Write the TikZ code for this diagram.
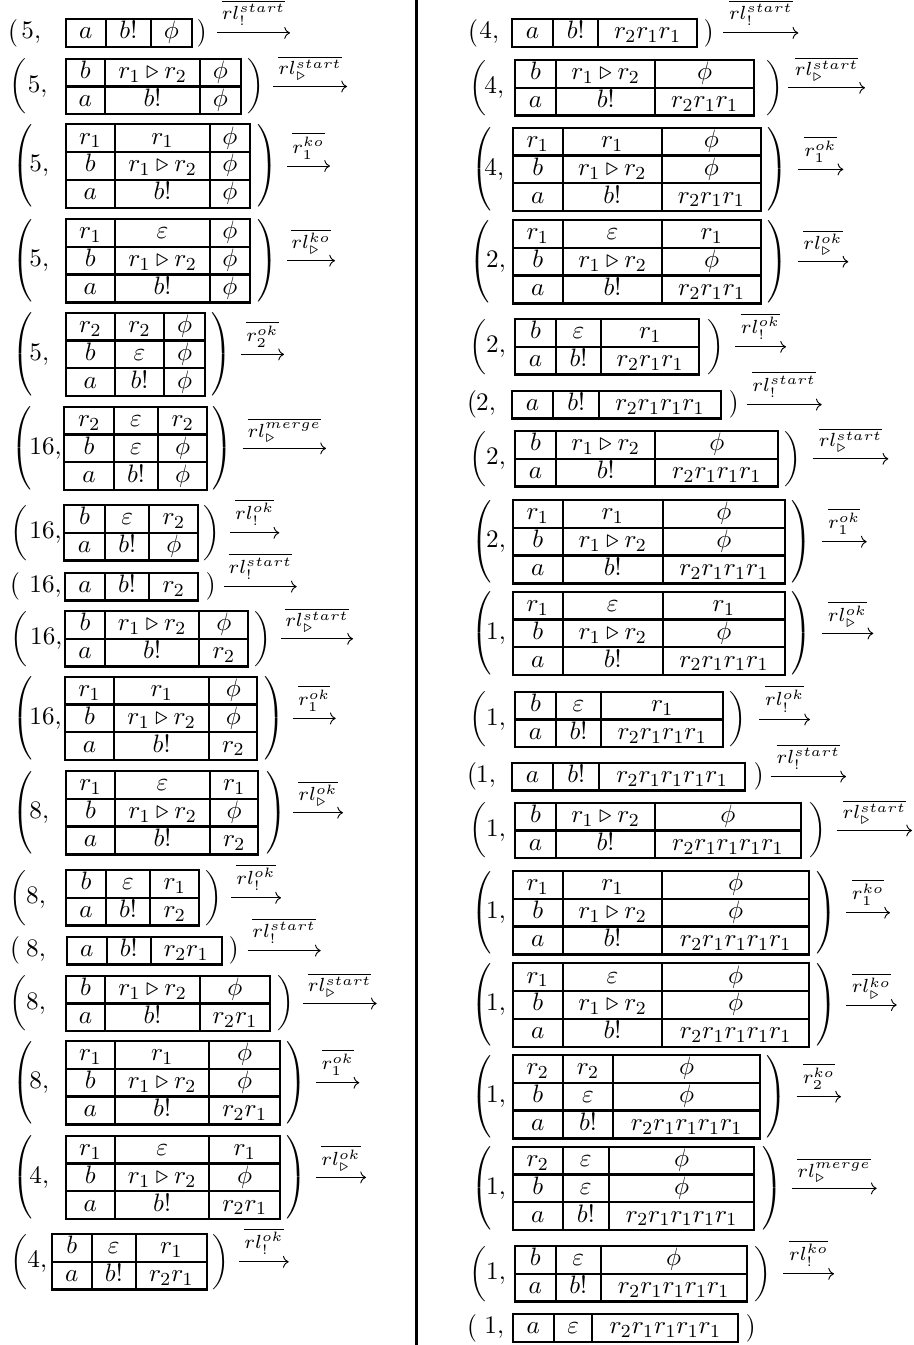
\documentclass[tikz,border=0pt]{standalone}
\usepackage{amsmath,amssymb,graphicx}
\usetikzlibrary{arrows.meta}
\tikzset{
  tabline/.style={line width=1pt},
  cell/.style={inner sep=0pt, anchor=base, font=\fontsize{10.95}{13.6}\selectfont},
  numtext/.style={inner sep=0pt, anchor=base west, font=\fontsize{10.95}{13.6}\selectfont},
  paren/.style={inner sep=0pt, anchor=west},
  arrline/.style={line width=0.4pt, -{Computer Modern Rightarrow}},
  lbl/.style={inner sep=0pt, anchor=south},
  divider/.style={line width=1.3pt},
}
\newcommand\rh{27.8}
\def\parsexs#1,#2,#3,#4,#5,#6,#7,#8,#9\relax{\def\xL{#1}\def\xa{#2}\def\xb{#3}\def\xR{#4}\def\xpl{#5}\def\xnum{#6}\def\xpr{#7}\def\xas{#8}\def\xae{#9}}
\newcommand\cfg[7]{%
  \parsexs#4\relax
  \pgfmathsetmacro\yb{#2+#3*\rh}%
  \pgfmathsetmacro\yc{#2+#3*\rh/2}%
  \pgfmathsetmacro\ybase{\yc+5.75}%
  \pgfmathsetmacro\hpt{#3*\rh*0.4348}%
  \draw[tabline] (\xL,#2) rectangle (\xR,\yb);
  \draw[tabline] (\xa,#2) -- (\xa,\yb) (\xb,#2) -- (\xb,\yb);
  \foreach \cA/\cB/\cC [count=\i] in {#6} {
    \pgfmathsetmacro\yt{#2+(\i-1)*\rh}
    \pgfmathsetmacro\yy{\yt+19.8}
    \ifnum\i>1 \draw[tabline] (\xL,\yt) -- (\xR,\yt); \fi
    \node[cell] (#1-\i-1) at ({(\xL+\xa)/2},\yy) {$\cA$};
    \node[cell] (#1-\i-2) at ({(\xa+\xb)/2},\yy) {$\cB$};
    \node[cell] (#1-\i-3) at ({(\xb+\xR)/2},\yy) {$\cC$};
  }
  \node[paren] (#1-lp) at ({\xpl-2.5},\yc) {\nulldelimiterspace=0pt$\left(\vcenter{\hbox{\vrule height \hpt pt depth 0pt width 0pt}}\right.$};
  \node[numtext] (#1-num) at ({\xnum-1},\ybase) {$#5,$};
  \node[paren] (#1-rp) at ({\xpr-1},\yc) {\nulldelimiterspace=0pt$\left.\vcenter{\hbox{\vrule height \hpt pt depth 0pt width 0pt}}\right)$};
  \if\relax\detokenize{#7}\relax\else
    \coordinate (#1-as) at (\xas,\yc);
    \coordinate (#1-ae) at (\xae,\yc);
    \draw[arrline] (#1-as) -- (#1-ae);
    \pgfmathsetmacro\xm{(\xas+\xae)/2}%
    \pgfmathsetmacro\yl{\yc-6.5}%
    \node[lbl] (#1-lab) at (\xm,\yl) {\scalebox{1.18}{$\scriptstyle\overline{#7}$}};
  \fi
}
\begin{document}
\begin{tikzpicture}[x=0.4348pt,y=-0.4348pt]
\useasboundingbox (0,0) rectangle (913,1345);
\draw[divider] (416,0) -- (416,1345);
% left column
\cfg{L1}{19}{1}{65.7,106,150.7,192.3,10,22,198,217,290}{5}{a/b!/\phi}{rl^{start}_{!}}
\cfg{L2}{58.7}{2}{65.7,105,200,240.7,11.7,28.3,248,273,347}{5}{b/{r_1\triangleright r_2}/\phi, a/b!/\phi}{rl^{start}_{\triangleright}}
\cfg{L3}{124.3}{3}{65.7,115,210,250,15,30,258,287,330}{5}{r_1/r_1/\phi, b/{r_1\triangleright r_2}/\phi, a/b!/\phi}{r_1^{ko}}
\cfg{L4}{219}{3}{65.7,115,210,250,15,30,258,287,335}{5}{r_1/\varepsilon/\phi, b/{r_1\triangleright r_2}/\phi, a/b!/\phi}{rl^{ko}_{\triangleright}}
\cfg{L5}{312.7}{3}{65.7,115,164,205,15,30,212,241,284}{5}{r_2/r_2/\phi, b/\varepsilon/\phi, a/b!/\phi}{r_2^{ok}}
\cfg{L6}{406.7}{3}{64.3,114,158,207.3,14,30,213,242.7,326}{16}{r_2/\varepsilon/r_2, b/\varepsilon/\phi, a/b!/\phi}{rl^{merge}_{\triangleright}}
\cfg{L7}{505}{2}{64.3,105,149.3,198.3,13,30,204,230,279.3}{16}{b/\varepsilon/r_2, a/b!/\phi}{rl^{ok}_{!}}
\cfg{L8}{572.7}{1}{65,105,149,198.3,11.7,30,207,224,296.7}{16}{a/b!/r_2}{rl^{start}_{!}}
\cfg{L9}{611}{2}{65,105,199.3,248.3,12.7,30.7,255,281,353}{16}{b/{r_1\triangleright r_2}/\phi, a/b!/r_2}{rl^{start}_{\triangleright}}
\cfg{L10}{676.7}{3}{65,114,209.3,257.3,15,30,265,292.7,335.7}{16}{r_1/r_1/\phi, b/{r_1\triangleright r_2}/\phi, a/b!/r_2}{r_1^{ok}}
\cfg{L11}{771}{3}{66,115,210,258.3,15,30,267,293,343}{8}{r_1/\varepsilon/r_1, b/{r_1\triangleright r_2}/\phi, a/b!/r_2}{rl^{ok}_{\triangleright}}
\cfg{L12}{870}{2}{66,106,150,199.3,11.7,26.7,206,231,281}{8}{b/\varepsilon/r_1, a/b!/r_2}{rl^{ok}_{!}}
\cfg{L13}{936.7}{1}{66.7,106.7,150.7,221.7,11.7,26.7,230,247.7,320.7}{8}{a/b!/r_2r_1}{rl^{start}_{!}}
\cfg{L14}{975.7}{2}{66,105,200,270,11.7,26.7,278,302.7,376.7}{8}{b/{r_1\triangleright r_2}/\phi, a/b!/r_2r_1}{rl^{start}_{\triangleright}}
\cfg{L15}{1041}{3}{65.7,115,209.3,280,15,30,287,316,359.3}{8}{r_1/r_1/\phi, b/{r_1\triangleright r_2}/\phi, a/b!/r_2r_1}{r_1^{ok}}
\cfg{L16}{1135.7}{3}{65.7,115,209.3,280,15,30,287,316,366}{4}{r_1/\varepsilon/r_1, b/{r_1\triangleright r_2}/\phi, a/b!/r_2r_1}{rl^{ok}_{\triangleright}}
\cfg{L17}{1234}{2}{51.7,91.7,136,206.7,13,28,213,239.3,288.7}{4}{b/\varepsilon/r_1, a/b!/r_2r_1}{rl^{ok}_{!}}
% right column
\cfg{R1}{19}{1}{511.7,553.3,598.3,696.7,469.3,480,705,723.3,798.3}{4}{a/b!/r_2r_1r_1}{rl^{start}_{!}}
\cfg{R2}{60}{2}{515,556,655.3,754,471.7,485,766.7,788.3,865}{4}{b/{r_1\triangleright r_2}/\phi, a/b!/r_2r_1r_1}{rl^{start}_{\triangleright}}
\cfg{R3}{127.7}{3}{512.7,562.7,661.7,761,473.3,485,768.3,797.7,843.3}{4}{r_1/r_1/\phi, b/{r_1\triangleright r_2}/\phi, a/b!/r_2r_1r_1}{r_1^{ok}}
\cfg{R4}{220}{3}{512.7,562.7,662.3,761,471.7,486.7,768.3,797.7,848.3}{2}{r_1/\varepsilon/r_1, b/{r_1\triangleright r_2}/\phi, a/b!/r_2r_1r_1}{rl^{ok}_{\triangleright}}
\cfg{R5}{319}{2}{515,556,601,699.3,471.7,486.7,708.3,735,786}{2}{b/\varepsilon/r_1, a/b!/r_2r_1r_1}{rl^{ok}_{!}}
\cfg{R6}{390.7}{1}{511.7,553.3,599,721,468.3,476.7,730,746.7,821.7}{2}{a/b!/r_2r_1r_1r_1}{rl^{start}_{!}}
\cfg{R7}{431}{2}{515,556,655.3,778.3,471.7,486.7,785,812.7,888.3}{2}{b/{r_1\triangleright r_2}/\phi, a/b!/r_2r_1r_1r_1}{rl^{start}_{\triangleright}}
\cfg{R8}{500}{3}{512.7,562.7,662.7,785,473.3,486.7,791.7,821.7,866.7}{2}{r_1/r_1/\phi, b/{r_1\triangleright r_2}/\phi, a/b!/r_2r_1r_1r_1}{r_1^{ok}}
\cfg{R9}{591.7}{3}{512.7,562.7,662.7,785,473.3,486.7,791.7,821.7,873.3}{1}{r_1/\varepsilon/r_1, b/{r_1\triangleright r_2}/\phi, a/b!/r_2r_1r_1r_1}{rl^{ok}_{\triangleright}}
\cfg{R10}{691.7}{2}{515,556,601,723.3,471.7,486.7,730,759.3,810}{1}{b/\varepsilon/r_1, a/b!/r_2r_1r_1r_1}{rl^{ok}_{!}}
\cfg{R11}{762.7}{1}{511.7,553.3,599,745,468.3,476.7,755,770.7,846}{1}{a/b!/r_2r_1r_1r_1r_1}{rl^{start}_{!}}
\cfg{R12}{802.7}{2}{515,556,655,800.7,471.7,486.7,810,836.7,912}{1}{b/{r_1\triangleright r_2}/\phi, a/b!/r_2r_1r_1r_1r_1}{rl^{start}_{\triangleright}}
\cfg{R13}{871}{3}{512.7,562.7,662.3,809,473.3,486.7,816.7,846,890}{1}{r_1/r_1/\phi, b/{r_1\triangleright r_2}/\phi, a/b!/r_2r_1r_1r_1r_1}{r_1^{ko}}
\cfg{R14}{963.3}{3}{512.7,562.7,662.3,809,473.3,486.7,816.7,846,896.7}{1}{r_1/\varepsilon/\phi, b/{r_1\triangleright r_2}/\phi, a/b!/r_2r_1r_1r_1r_1}{rl^{ko}_{\triangleright}}
\cfg{R15}{1055}{3}{512.7,562.7,613.3,760,473.3,486.7,766.7,796.7,841}{1}{r_2/r_2/\phi, b/\varepsilon/\phi, a/b!/r_2r_1r_1r_1r_1}{r_2^{ko}}
\cfg{R16}{1146.7}{3}{512.7,562.7,609,754.3,473.3,486.7,763.3,791.7,876.7}{1}{r_2/\varepsilon/\phi, b/\varepsilon/\phi, a/b!/r_2r_1r_1r_1r_1}{rl^{merge}_{\triangleright}}
\cfg{R17}{1246}{2}{515,555.7,600.7,746.7,471.7,486.7,755,783.3,834}{1}{b/\varepsilon/\phi, a/b!/r_2r_1r_1r_1r_1}{rl^{ko}_{!}}
\cfg{R18}{1314}{1}{512.7,554,592.3,738.3,468.3,485,746.7,0,0}{1}{a/\varepsilon/r_2r_1r_1r_1r_1}{}
\end{tikzpicture}
\end{document}
